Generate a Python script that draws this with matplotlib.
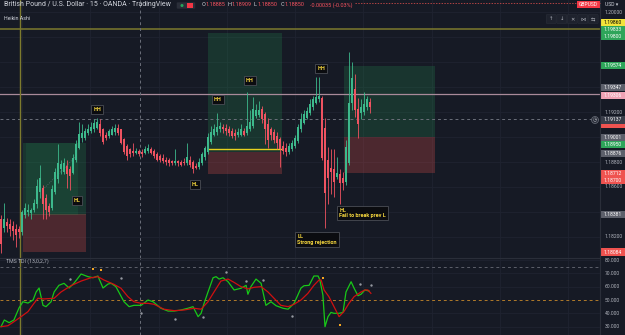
import numpy as np
import matplotlib.pyplot as plt
from matplotlib.patches import Rectangle, Ellipse, FancyBboxPatch
from matplotlib.transforms import blended_transform_factory

plt.rcParams['font.family'] = ['Roboto', 'DejaVu Sans']

BG = '#161a25'
UP = '#3db98c'
DOWN = '#ef5361'
GRID = '#1f2330'
AXTXT = '#b2b5be'

# Heikin Ashi candles, GBPUSD 15m
opens = [1.1834, 1.1827, 1.1832, 1.1830, 1.1829, 1.1826, 1.1826, 1.1824, 1.1838, 1.1840,
         1.1839, 1.1842, 1.1846, 1.1856, 1.1859, 1.1851, 1.1845, 1.1843, 1.1856, 1.1866,
         1.1874, 1.1872, 1.1877, 1.1874, 1.1871, 1.1882, 1.1891, 1.1899, 1.1899, 1.1903,
         1.1905, 1.1906, 1.1907, 1.1910, 1.1906, 1.1902, 1.1901, 1.1902, 1.1904, 1.1907,
         1.1906, 1.1898, 1.1893, 1.1890, 1.1889, 1.1887, 1.1889, 1.1888, 1.1887, 1.1889,
         1.1890, 1.1889, 1.1886, 1.1885, 1.1883, 1.1882, 1.1882, 1.1881, 1.1879, 1.1881,
         1.1880, 1.1880, 1.1879, 1.1882, 1.1880, 1.1877, 1.1876, 1.1879, 1.1884, 1.1888,
         1.1896, 1.1902, 1.1904, 1.1906, 1.1908, 1.1907, 1.1906, 1.1905, 1.1903, 1.1902,
         1.1902, 1.1905, 1.1903, 1.1906, 1.1909, 1.1917, 1.1918, 1.1922, 1.1918, 1.1910,
         1.1906, 1.1904, 1.1901, 1.1898, 1.1893, 1.1891, 1.1888, 1.1890, 1.1893, 1.1897,
         1.1906, 1.1911, 1.1915, 1.1919, 1.1924, 1.1927, 1.1930, 1.1931, 1.1907, 1.1882,
         1.1875, 1.1874, 1.1868, 1.1870, 1.1867, 1.1864, 1.1879, 1.1927, 1.1938, 1.1922,
         1.1919, 1.1920, 1.1924, 1.1928]
closes = [1.1814, 1.1834, 1.1829, 1.1826, 1.1825, 1.1822, 1.1824, 1.1840, 1.1843, 1.1842,
          1.1842, 1.1847, 1.1861, 1.1867, 1.1846, 1.1842, 1.1840, 1.1858, 1.1872, 1.1879,
          1.1878, 1.1879, 1.1870, 1.1869, 1.1883, 1.1894, 1.1902, 1.1903, 1.1905, 1.1906,
          1.1908, 1.1911, 1.1912, 1.1903, 1.1896, 1.1899, 1.1905, 1.1906, 1.1907, 1.1903,
          1.1895, 1.1888, 1.1885, 1.1886, 1.1887, 1.1889, 1.1886, 1.1886, 1.1890, 1.1891,
          1.1887, 1.1885, 1.1882, 1.1882, 1.1881, 1.1880, 1.1879, 1.1879, 1.1881, 1.1879,
          1.1878, 1.1879, 1.1884, 1.1878, 1.1874, 1.1875, 1.1880, 1.1886, 1.1891, 1.1900,
          1.1904, 1.1906, 1.1908, 1.1909, 1.1906, 1.1905, 1.1903, 1.1901, 1.1901, 1.1904,
          1.1906, 1.1902, 1.1909, 1.1912, 1.1922, 1.1922, 1.1922, 1.1914, 1.1906, 1.1898,
          1.1902, 1.1898, 1.1895, 1.1890, 1.1889, 1.1888, 1.1893, 1.1895, 1.1899, 1.1908,
          1.1914, 1.1918, 1.1921, 1.1926, 1.1930, 1.1932, 1.1933, 1.1883, 1.1855, 1.1867,
          1.1872, 1.1864, 1.1871, 1.1863, 1.1863, 1.1892, 1.1927, 1.1947, 1.1922, 1.1910,
          1.1924, 1.1926, 1.1930, 1.1924]
highs = [1.1838, 1.1847, 1.1835, 1.1834, 1.1833, 1.1830, 1.1829, 1.1842, 1.1847, 1.1846,
         1.1843, 1.1850, 1.1866, 1.1878, 1.1862, 1.1854, 1.1847, 1.1862, 1.1875, 1.1894,
         1.1882, 1.1883, 1.1882, 1.1877, 1.1886, 1.1898, 1.1912, 1.1910, 1.1907, 1.1910,
         1.1912, 1.1914, 1.1915, 1.1914, 1.1907, 1.1904, 1.1906, 1.1909, 1.1910, 1.1910,
         1.1906, 1.1899, 1.1894, 1.1891, 1.1895, 1.1891, 1.1890, 1.1890, 1.1893, 1.1894,
         1.1892, 1.1890, 1.1888, 1.1886, 1.1886, 1.1884, 1.1883, 1.1882, 1.1890, 1.1882,
         1.1882, 1.1883, 1.1895, 1.1885, 1.1882, 1.1879, 1.1883, 1.1888, 1.1893, 1.1903,
         1.1909, 1.1910, 1.1919, 1.1912, 1.1910, 1.1910, 1.1909, 1.1907, 1.1906, 1.1907,
         1.1910, 1.1907, 1.1936, 1.1922, 1.1932, 1.1926, 1.1929, 1.1925, 1.1920, 1.1915,
         1.1908, 1.1906, 1.1904, 1.1900, 1.1897, 1.1895, 1.1895, 1.1898, 1.1902, 1.1910,
         1.1919, 1.1922, 1.1924, 1.1930, 1.1933, 1.1948, 1.1948, 1.1933, 1.1915, 1.1892,
         1.1890, 1.1890, 1.1884, 1.1874, 1.1872, 1.1898, 1.1968, 1.1960, 1.1950, 1.1931,
         1.1930, 1.1936, 1.1933, 1.1931]
lows = [1.1807, 1.1824, 1.1824, 1.1821, 1.1818, 1.1812, 1.1819, 1.1822, 1.1835, 1.1837,
        1.1834, 1.1840, 1.1843, 1.1851, 1.1834, 1.1834, 1.1837, 1.1842, 1.1854, 1.1863,
        1.1870, 1.1870, 1.1859, 1.1858, 1.1870, 1.1880, 1.1890, 1.1896, 1.1898, 1.1902,
        1.1903, 1.1904, 1.1906, 1.1901, 1.1894, 1.1898, 1.1899, 1.1902, 1.1902, 1.1902,
        1.1894, 1.1886, 1.1882, 1.1884, 1.1885, 1.1886, 1.1885, 1.1884, 1.1886, 1.1887,
        1.1886, 1.1883, 1.1881, 1.1880, 1.1879, 1.1878, 1.1877, 1.1878, 1.1878, 1.1877,
        1.1877, 1.1878, 1.1878, 1.1876, 1.1871, 1.1874, 1.1874, 1.1878, 1.1882, 1.1886,
        1.1894, 1.1901, 1.1902, 1.1904, 1.1903, 1.1902, 1.1901, 1.1899, 1.1898, 1.1900,
        1.1901, 1.1901, 1.1902, 1.1905, 1.1907, 1.1915, 1.1916, 1.1911, 1.1894, 1.1891,
        1.1898, 1.1895, 1.1890, 1.1876, 1.1886, 1.1885, 1.1886, 1.1889, 1.1891, 1.1895,
        1.1904, 1.1910, 1.1914, 1.1918, 1.1922, 1.1926, 1.1928, 1.1882, 1.1827, 1.1846,
        1.1854, 1.1852, 1.1866, 1.1846, 1.1858, 1.1862, 1.1878, 1.1922, 1.1916, 1.1899,
        1.1914, 1.1918, 1.1922, 1.1919]

# long position tools: start bar, end bar, entry, target, stop
pos_start = [7.3, 69.0, 114.3]
pos_end = [28.3, 93.7, 144.7]
pos_entry = [1.1838, 1.1888, 1.1900]
pos_target = [1.1895, 1.1983, 1.1957]
pos_stop = [1.1808, 1.1870, 1.1871]

# swing labels
swing_text = ['HH', 'HL', 'HL', 'HH', 'HH', 'HH']
swing_bar = [32.0, 25.3, 64.7, 72.3, 83.0, 106.7]
swing_price = [1.1922, 1.1849, 1.1862, 1.1930, 1.1945, 1.1955]
note_text = ['LL\nStrong rejection', 'HL\nFail to break prev L']
note_bar = [98.8, 112.8]
note_price = [1.1818, 1.1839]

# horizontal levels
olive_level = 1.1986
pink_level = 1.1934
cross_level = 1.1914
yellow_level = 1.1890

# TDI (13,0,2,7)
tdi_green_x = [0, 1.1, 2.7, 4.3, 6, 7.3, 9, 10.7, 11.7, 12.7, 14, 15, 16.7, 17.7, 19.3, 21, 22.7,
               24.3, 26.7, 29, 30.7, 32.3, 34, 35.7, 36.7, 38.3, 41, 42.7, 44.3, 46.7, 49, 50.7,
               53.3, 55.7, 57.7, 60, 62.3, 64, 65.7, 66.7, 67.7, 69, 70.7, 71.7, 72.7, 74, 75.7,
               77.7, 80, 81.7, 82.3, 83.3, 85, 86.7, 88.3, 90, 91.7, 94, 95.7, 97.7, 100, 101,
               102.7, 104.3, 105.7, 106.3, 107.3, 108, 109, 110, 111, 112.7, 114, 115, 116.7,
               117.7, 119, 120, 121.3, 122.7]
tdi_green = [30, 35, 33, 35, 44, 48.7, 47.7, 50, 56, 59, 46, 45, 48.7, 56, 61, 62.5, 59,
             62.5, 69.5, 67.5, 66.7, 68, 59, 62, 62.5, 60, 48.7, 45, 46, 46, 50, 48.7,
             43.8, 41.7, 41.7, 42.5, 43.8, 45, 37.5, 40, 47.5, 56, 66.7, 67.5, 65.7, 66.7, 63.7,
             57.5, 58.8, 61, 54.3, 60, 65.7, 62.5, 46, 48.7, 45.7, 43.8, 43.1, 47.5, 59, 60.7,
             61, 68, 68, 65, 53.7, 30, 37.5, 40.7, 40, 40, 40.7, 56, 63.7,
             58.8, 53.2, 54.3, 57.5, 56.7]
tdi_red_x = [0, 2.3, 4.3, 6.7, 9, 11, 12.3, 14.3, 17.7, 20, 23.3, 26.7, 30, 32.3, 34.3, 37.7,
             40, 42.3, 44.3, 46.7, 49, 51, 54.3, 57.7, 61, 64.3, 66.7, 69, 71, 73.3, 75.7,
             77.7, 80, 82.3, 84.3, 86.7, 89, 91, 93.3, 95.7, 97.7, 100, 102.3, 104.3, 106,
             106.7, 107.7, 109.3, 111, 112.7, 114.3, 116, 117.7, 120, 121.3, 122.3, 123.3]
tdi_red = [30, 30.7, 33.7, 37.5, 41.3, 47.5, 51.3, 50.8, 51.3, 56, 60.7, 64.2, 66.7, 67.5, 65, 61.7,
           58.8, 52.5, 48.7, 47.5, 47.5, 46.8, 43.1, 42, 42.5, 43.8, 43.1, 48.7, 56, 64.2, 65.7,
           63.2, 60, 58.3, 59.5, 60, 56, 51.3, 46, 45, 46.8, 50, 55, 61, 65,
           65, 57.5, 52.5, 45, 37.5, 41.3, 47.5, 52.5, 56, 57.5, 57.5, 55]
grey_dot_x = [23, 40, 46.7, 58, 67.3, 75, 81.7, 87.3, 97, 119.7, 123.3]
grey_dot_y = [65.7, 66.2, 40, 35.5, 37.5, 71.2, 64.2, 64.7, 37.8, 61.7, 61]
orange_dot_x = [30.7, 33.3, 107.3, 113]
orange_dot_y = [73.5, 72.5, 66.2, 31]

# plain price scale labels that stay visible between the tags
price_ticks = [1.182, 1.186, 1.188, 1.192, 1.200]
tdi_ticks = [30, 40, 50, 60, 70, 80]

# right scale tags: text, background, pixel row
tag_text = ['1.19860', '1.19833', '1.19800', '1.19574', '1.19347', '1.19306', '1.19137',
            '1.19001', '1.18950', '1.18876', '1.18712', '1.18700', '1.18381', '1.18084']
tag_bg = ['#f2e33a', '#2ea55a', '#2ea55a', '#2ea55a', '#5d606b', '#f0a3b5', '#3a3e4a',
          '#5d606b', '#2ea55a', '#5d606b', '#ef5350', '#ef5350', '#5d606b', '#ef5350']
tag_row = [22.7, 29.5, 36.8, 65.3, 87.7, 95.3, 120, 137.3, 144.7, 153.3, 173.3, 180.7, 214.5, 252]

W, H = 625, 335


def fx(px):
    return px / W


def fy(py):
    return 1 - py / H


fig = plt.figure(figsize=(6.25, 3.35), dpi=100, facecolor=BG)
ax = fig.add_axes([0, 77 / H, fx(600), 258 / H])
ax2 = fig.add_axes([0, 0, fx(600), 77 / H])
for a in (ax, ax2):
    a.set_facecolor(BG)
    a.set_xlim(-1 / 3, 200 - 1 / 3)
    a.set_xticks([])
    a.set_yticks([])
    for s in a.spines.values():
        s.set_visible(False)
ax.set_ylim(1.18032, 1.20096)
ax2.set_ylim(23.75, 81.5)

# grid
for k in range(9):
    gx = 7 + 22.75 * k
    ax.axvline(gx, color=GRID, lw=0.6, zorder=0)
    ax2.axvline(gx, color=GRID, lw=0.6, zorder=0)
for lvl in np.arange(1.182, 1.2001, 0.002):
    ax.axhline(lvl, color=GRID, lw=0.6, zorder=0)
for lvl in [30, 40, 60, 70, 80]:
    ax2.axhline(lvl, color=GRID, lw=0.6, zorder=0)

# position boxes
for s, e, en, tp, sl in zip(pos_start, pos_end, pos_entry, pos_target, pos_stop):
    ax.add_patch(Rectangle((s, en), e - s, tp - en, fc='#26a65b', alpha=0.2, ec='none', zorder=1))
    ax.add_patch(Rectangle((s, sl), e - s, en - sl, fc='#ef5350', alpha=0.25, ec='none', zorder=1))
ax.add_patch(Rectangle((8.3, pos_entry[0]), 17.4, pos_target[0] - pos_entry[0],
                       fc='#26a65b', alpha=0.12, ec='none', zorder=1))
ax.plot([pos_start[1], pos_end[1]], [yellow_level, yellow_level], color='#e6d21e', lw=1, zorder=3)
ax.plot([14, 24.7], [1.1858, 1.1884], color='#8a8d96', lw=0.6, ls=':', alpha=0.6, zorder=2)

# levels
ax.axhline(olive_level, color='#7d7a2d', lw=1.1, zorder=2)
ax.axhline(pink_level, color='#a98a9a', lw=0.9, zorder=2)
ax.axhline(cross_level, color='#6b6f7a', lw=0.7, ls=(0, (3, 3)), zorder=2)
for a in (ax, ax2):
    a.axvline(6.33, color='#7d7a2d', lw=1, zorder=2)
    a.axvline(46.33, color='#6b6f7a', lw=0.7, ls=(0, (3, 3)), zorder=2)

# heikin ashi candles
x = np.arange(len(opens))
o = np.array(opens)
c = np.array(closes)
cols = [UP if cc >= oo else DOWN for oo, cc in zip(o, c)]
ax.vlines(x, lows, highs, colors=cols, lw=0.6, zorder=4)
ax.bar(x, np.maximum(np.abs(c - o), 0.00004), bottom=np.minimum(o, c), width=0.75,
       color=cols, zorder=5)

# swing labels
box = dict(boxstyle='square,pad=0.35', fc='#0b0c10', ec='#4a4d55', lw=0.6)
for t, bx, py in zip(swing_text, swing_bar, swing_price):
    ax.text(bx, py, t, fontsize=4, color='#f5d63d', fontweight='bold', ha='center',
            va='center', bbox=box, zorder=6)
for t, bx, py in zip(note_text, note_bar, note_price):
    ax.text(bx, py, t, fontsize=4, color='#f5d63d', fontweight='bold', ha='left',
            va='center', bbox=box, zorder=6, linespacing=1.1)

# TDI panel
ax2.axhline(75, color='#5d606b', lw=0.7, ls=(0, (3, 3)))
ax2.axhline(50, color='#b07a2a', lw=0.7, ls=(0, (3, 3)))
ax2.plot(tdi_green_x, tdi_green, color='#18c818', lw=0.9, zorder=3)
ax2.plot(tdi_red_x, tdi_red, color='#d01010', lw=0.9, zorder=4)
ax2.scatter(grey_dot_x, grey_dot_y, s=3, color='#9598a1', zorder=5, lw=0)
ax2.scatter(orange_dot_x, orange_dot_y, s=4, marker='s', color='#f5a623', zorder=5, lw=0)
ax2.text(1.5, 79.2, 'TMS TDI (13,0,2,7)', fontsize=3.8, color=AXTXT, va='center')

# right scales
tr = blended_transform_factory(ax.transAxes, ax.transData)
for lvl in price_ticks:
    ax.text(1.008, lvl, f'{lvl:.5f}', transform=tr, fontsize=3.6, color=AXTXT,
            va='center', ha='left', clip_on=False)
tr2 = blended_transform_factory(ax2.transAxes, ax2.transData)
for lvl in tdi_ticks:
    ax2.text(1.008, lvl, f'{lvl:.3f}', transform=tr2, fontsize=3.6, color=AXTXT,
             va='center', ha='left', clip_on=False)

fig.add_artist(Rectangle((fx(601), fy(128)), fx(24), 4 / H, fc='#ef5350', ec='none',
                         transform=fig.transFigure))
for t, bg, row in zip(tag_text, tag_bg, tag_row):
    fig.add_artist(Rectangle((fx(601), fy(row + 3.6)), fx(24), 7.2 / H, fc=bg, ec='none',
                             transform=fig.transFigure))
    fig.text(fx(612.5), fy(row), t, fontsize=3.6, ha='center', va='center',
             color='black' if bg == '#f2e33a' else 'white')

# separators
fig.add_artist(plt.Line2D([0, fx(600)], [fy(258), fy(258)], color='#2a2e39', lw=0.8))
fig.add_artist(plt.Line2D([fx(600), fx(600)], [0, 1], color='#2a2e39', lw=0.8))
fig.add_artist(plt.Line2D([fx(355), fx(600)], [fy(3), fy(3)], color='#ef5350', lw=0.5,
                          ls=(0, (2, 2))))

# header
fig.text(fx(4), fy(5), 'British Pound / U.S. Dollar · 15 · OANDA · TradingView', fontsize=5.0,
         color='#d1d4dc', va='center')
fig.text(fx(4), fy(18), 'Heikin Ashi', fontsize=3.8, color='#d1d4dc', va='center')
fig.add_artist(FancyBboxPatch((fx(178), fy(8)), fx(16), 5 / H, boxstyle='round,pad=0.002',
                              fc='#2a2e39', ec='none', transform=fig.transFigure))
fig.add_artist(Ellipse((fx(182), fy(5.5)), fx(3), 3 / H, fc='#26a65b', transform=fig.transFigure))
fig.add_artist(Rectangle((fx(186.5), fy(8)), fx(6), 5 / H, fc='#f23645', ec='none',
                         transform=fig.transFigure))
ohlc = [('O', '1.18885', 201.5), ('H', '1.18909', 228), ('L', '1.18850', 254),
        ('C', '1.18850', 280.5)]
for letter, val, px in ohlc:
    fig.text(fx(px), fy(5), letter, fontsize=4.0, color='#d1d4dc', va='center')
    fig.text(fx(px + 3.6), fy(5), val, fontsize=4.0, color='#f7525f', va='center')
fig.text(fx(310), fy(5), '-0.00035 (-0.03%)', fontsize=4.0, color='#f7525f', va='center')

fig.add_artist(Rectangle((fx(577), fy(7.5)), fx(23), 7 / H, fc='#f23645', ec='none',
                         transform=fig.transFigure))
fig.text(fx(588.5), fy(4), 'GBPUSD', fontsize=3.6, color='white', ha='center', va='center')
fig.text(fx(605), fy(4), 'USD ▾', fontsize=3.6, color='#d1d4dc', va='center')

for i, g in enumerate(['↑', '↓', '✕', '⋈', '⇆']):
    bx = 547 + i * 10.5
    fig.add_artist(FancyBboxPatch((fx(bx), fy(23)), fx(8.5), 8 / H, boxstyle='round,pad=0.001',
                                  fc='#1e222d', ec='#2a2e39', lw=0.4, transform=fig.transFigure))
    fig.text(fx(bx + 4.25), fy(19), g, fontsize=3.8, color='#b2b5be', ha='center', va='center')

fig.add_artist(Ellipse((fx(595), fy(120)), fx(7), 7 / H, fc='#2a2e39', ec='#6b6f7a', lw=0.5,
                       transform=fig.transFigure))
fig.text(fx(595), fy(120), '◷', fontsize=3.5, color='#b2b5be', ha='center', va='center')

fig.savefig('out.png', dpi=100, facecolor=BG)
